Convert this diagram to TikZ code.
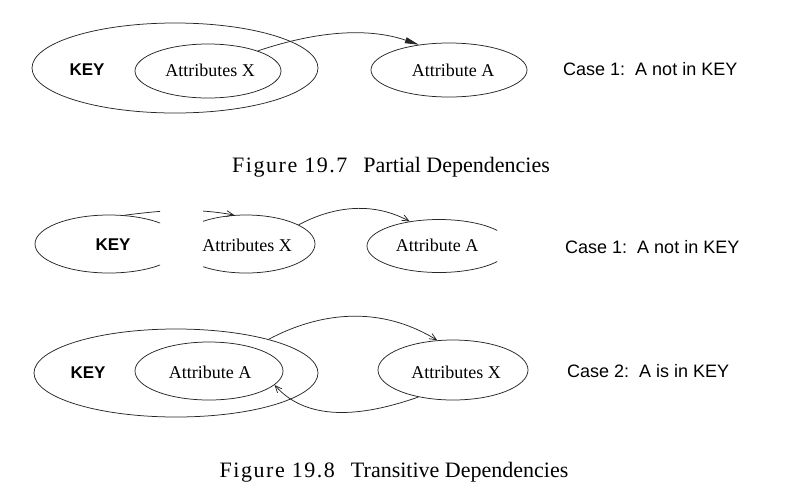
\documentclass[tikz,border=0pt]{standalone}
\usepackage{fontspec}
\setmainfont{Liberation Serif}
\newfontfamily\sansf{Liberation Sans}
\newfontfamily\capf[LetterSpace=7]{Liberation Serif}
\usetikzlibrary{shapes.geometric,arrows.meta}
\begin{document}
\begin{tikzpicture}[x=1pt,y=-1pt,
  ell/.style={draw=black!85, line width=0.75pt, ellipse, inner sep=0pt},
  lbl/.style={font=\fontsize{18}{18}\selectfont},
  keyl/.style={font=\sansf\bfseries\fontsize{17}{17}\selectfont},
  casel/.style={font=\sansf\fontsize{18}{18}\selectfont, anchor=base west, inner sep=0pt},
  capl/.style={font=\fontsize{22}{22}\selectfont, anchor=base, inner sep=0pt},
  conn/.style={draw=black!85, line width=0.75pt},
  filledtip/.style={-{Triangle[length=14pt,width=6pt]}},
  barbtip/.style={-{Straight Barb[length=7pt,width=6pt]}},
]
\useasboundingbox (0,0) rectangle (797,499);

% ---------- Figure 19.7 ----------
\node[ell, minimum width=286pt, minimum height=90pt] (k1) at (175,68) {};
\node[keyl] (kt1) at (87,70) {KEY};
\node[ell, minimum width=146pt, minimum height=54pt] (x1) at (208,71) {};
\node[lbl] (xt1) at (210,70) {Attributes X};
\node[ell, minimum width=156pt, minimum height=54pt] (a1) at (449,70) {};
\node[lbl] (at1) at (453,70) {Attribute A};
\node[casel] (c1) at (563,75) {Case 1:\ \ A not in KEY};
\draw[conn, filledtip] (x1.22) .. controls (320,30) and (370,28) .. (a1.140);
\node[capl] (cap1) at (391,172) {{\capf Figure 19.7}\hspace{16pt}Partial Dependencies};

% ---------- Figure 19.8, case 1 ----------
\begin{scope}
  \clip (0,190) rectangle (160,290);
  \node[ell, minimum width=148pt, minimum height=58pt] (k2) at (109,244) {};
  \draw[conn] (k2.62) .. controls (165,210) and (195,208) .. (220,214);
\end{scope}
\node[keyl] (kt2) at (113,245) {KEY};
\begin{scope}
  \clip (203,190) rectangle (400,290);
  \node[ell, minimum width=138pt, minimum height=58pt] (x2) at (246,244) {};
  \draw[conn, barbtip] (k2.62) .. controls (165,210) and (195,208) .. (x2.112);
\end{scope}
\node[lbl] (xt2) at (247,245) {Attributes X};
\begin{scope}
  \clip (330,190) rectangle (497,290);
  \node[ell, minimum width=144pt, minimum height=53pt] (a2) at (439,246) {};
\end{scope}
\node[lbl] (at2) at (437,245) {Attribute A};
\draw[conn, barbtip] (x2.20) .. controls (330,208) and (370,200) .. (a2.140);
\node[casel] (c2) at (565,253) {Case 1:\ \ A not in KEY};

% ---------- Figure 19.8, case 2 ----------
\node[ell, minimum width=284pt, minimum height=88pt] (k3) at (176,373) {};
\node[keyl] (kt3) at (88,373) {KEY};
\node[ell, minimum width=148pt, minimum height=58pt] (a3) at (209,371) {};
\node[lbl] (at3) at (210,372) {Attribute A};
\node[ell, minimum width=150pt, minimum height=60pt] (x3) at (453,370) {};
\node[lbl] (xt3) at (456,372) {Attributes X};
\node[casel] (c3) at (567,377) {Case 2:\ \ A is in KEY};
\draw[conn, barbtip] (k3.20) .. controls (320,312) and (380,305) .. (x3.118);
\draw[conn, barbtip] (x3.218) .. controls (370,414) and (310,425) .. (a3.348);
\node[capl] (cap2) at (394,477) {{\capf Figure 19.8}\hspace{16pt}Transitive Dependencies};
\end{tikzpicture}
\end{document}
